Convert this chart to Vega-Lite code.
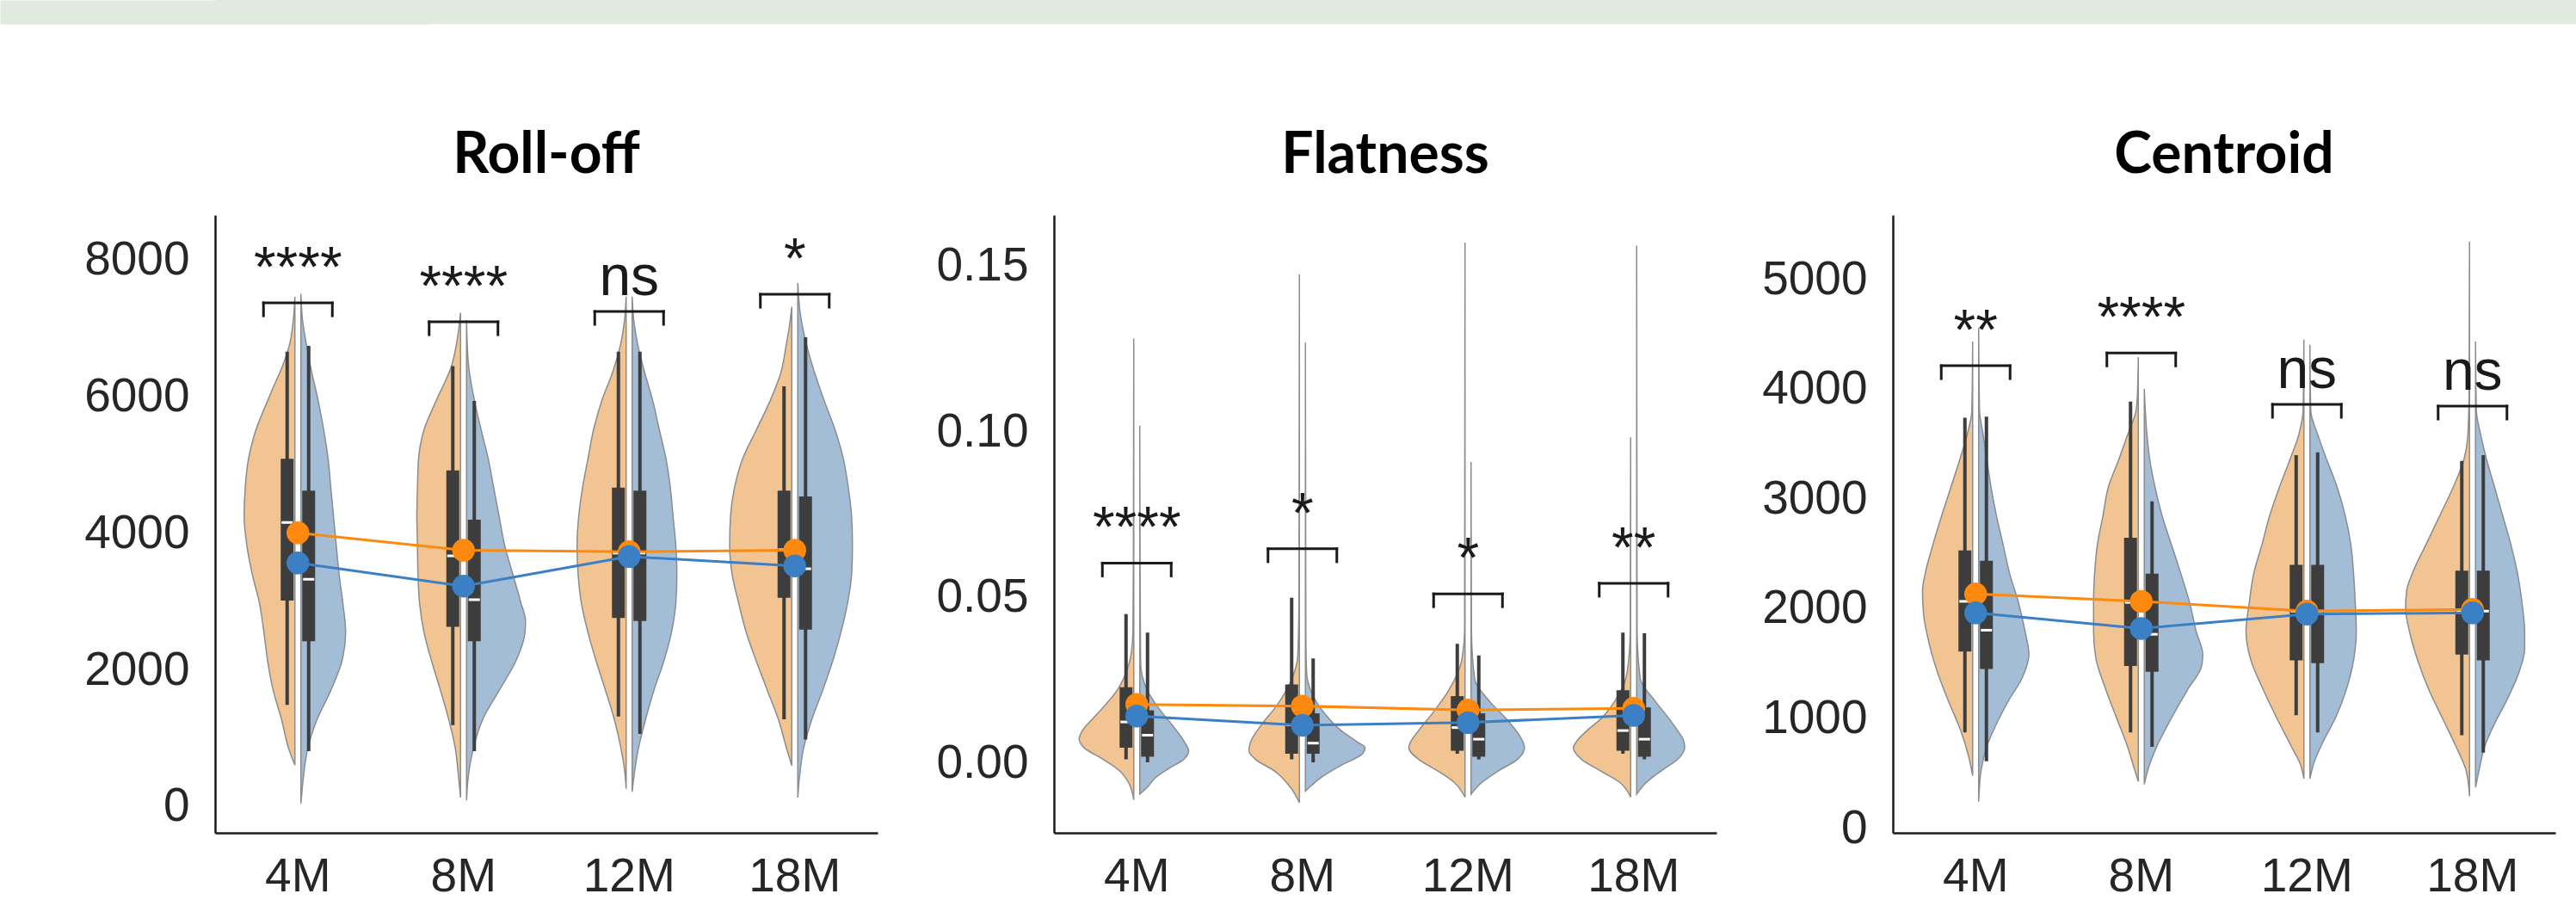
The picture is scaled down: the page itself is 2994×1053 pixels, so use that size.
{
"$schema": "https://vega.github.io/schema/vega-lite/v6.json",
"padding": 0,
"background": "white",
"config": {
  "view": {"stroke": null},
  "axis": {"grid": false, "ticks": false, "tickSize": 0, "domainColor": "#1a1a1a", "domainWidth": 2.5, "labelFont": "Liberation Sans", "labelFontSize": 55, "labelColor": "#262626"},
  "axisX": {"labelAngle": 0, "labelPadding": 24},
  "axisY": {"labelPadding": 30},
  "title": {"font": "Lato", "fontSize": 66, "fontWeight": "bold", "color": "#000000", "frame": "group", "anchor": "middle", "baseline": "alphabetic", "offset": 35}
},
"datasets": {
  "roll_violin": [
    {"age":"4M","g":"G1","v":7450,"d":0},{"age":"4M","g":"G1","v":7100,"d":0.02},{"age":"4M","g":"G1","v":6773,"d":0.06},{"age":"4M","g":"G1","v":6434,"d":0.15},{"age":"4M","g":"G1","v":6100,"d":0.27},{"age":"4M","g":"G1","v":5926,"d":0.33},{"age":"4M","g":"G1","v":5503,"d":0.47},{"age":"4M","g":"G1","v":5080,"d":0.56},{"age":"4M","g":"G1","v":4656,"d":0.6},{"age":"4M","g":"G1","v":4233,"d":0.613},{"age":"4M","g":"G1","v":3810,"d":0.58},{"age":"4M","g":"G1","v":3386,"d":0.514},{"age":"4M","g":"G1","v":2963,"d":0.427},{"age":"4M","g":"G1","v":2540,"d":0.374},{"age":"4M","g":"G1","v":2116,"d":0.328},{"age":"4M","g":"G1","v":1693,"d":0.262},{"age":"4M","g":"G1","v":1270,"d":0.162},{"age":"4M","g":"G1","v":847,"d":0.076},{"age":"4M","g":"G1","v":600,"d":0},
    {"age":"4M","g":"G2","v":7492,"d":0},{"age":"4M","g":"G2","v":7100,"d":0.02},{"age":"4M","g":"G2","v":6773,"d":0.063},{"age":"4M","g":"G2","v":6350,"d":0.129},{"age":"4M","g":"G2","v":5926,"d":0.209},{"age":"4M","g":"G2","v":5503,"d":0.275},{"age":"4M","g":"G2","v":5080,"d":0.328},{"age":"4M","g":"G2","v":4656,"d":0.361},{"age":"4M","g":"G2","v":4233,"d":0.394},{"age":"4M","g":"G2","v":3810,"d":0.427},{"age":"4M","g":"G2","v":3386,"d":0.461},{"age":"4M","g":"G2","v":2963,"d":0.507},{"age":"4M","g":"G2","v":2540,"d":0.54},{"age":"4M","g":"G2","v":2116,"d":0.494},{"age":"4M","g":"G2","v":1693,"d":0.361},{"age":"4M","g":"G2","v":1270,"d":0.196},{"age":"4M","g":"G2","v":847,"d":0.083},{"age":"4M","g":"G2","v":423,"d":0.03},{"age":"4M","g":"G2","v":40,"d":0},
    {"age":"8M","g":"G1","v":7213,"d":0},{"age":"8M","g":"G1","v":6900,"d":0.03},{"age":"8M","g":"G1","v":6434,"d":0.109},{"age":"8M","g":"G1","v":5926,"d":0.295},{"age":"8M","g":"G1","v":5503,"d":0.441},{"age":"8M","g":"G1","v":5080,"d":0.507},{"age":"8M","g":"G1","v":4656,"d":0.52},{"age":"8M","g":"G1","v":4233,"d":0.527},{"age":"8M","g":"G1","v":3810,"d":0.52},{"age":"8M","g":"G1","v":3386,"d":0.514},{"age":"8M","g":"G1","v":2963,"d":0.494},{"age":"8M","g":"G1","v":2540,"d":0.441},{"age":"8M","g":"G1","v":2116,"d":0.348},{"age":"8M","g":"G1","v":1693,"d":0.242},{"age":"8M","g":"G1","v":1270,"d":0.143},{"age":"8M","g":"G1","v":847,"d":0.063},{"age":"8M","g":"G1","v":508,"d":0.03},{"age":"8M","g":"G1","v":127,"d":0},
    {"age":"8M","g":"G2","v":7111,"d":0},{"age":"8M","g":"G2","v":6500,"d":0.02},{"age":"8M","g":"G2","v":5926,"d":0.096},{"age":"8M","g":"G2","v":5503,"d":0.176},{"age":"8M","g":"G2","v":5080,"d":0.262},{"age":"8M","g":"G2","v":4656,"d":0.328},{"age":"8M","g":"G2","v":4233,"d":0.394},{"age":"8M","g":"G2","v":3810,"d":0.461},{"age":"8M","g":"G2","v":3386,"d":0.56},{"age":"8M","g":"G2","v":2963,"d":0.659},{"age":"8M","g":"G2","v":2709,"d":0.712},{"age":"8M","g":"G2","v":2540,"d":0.706},{"age":"8M","g":"G2","v":2116,"d":0.593},{"age":"8M","g":"G2","v":1693,"d":0.394},{"age":"8M","g":"G2","v":1270,"d":0.196},{"age":"8M","g":"G2","v":847,"d":0.083},{"age":"8M","g":"G2","v":423,"d":0.02},{"age":"8M","g":"G2","v":85,"d":0},
    {"age":"12M","g":"G1","v":7450,"d":0},{"age":"12M","g":"G1","v":7100,"d":0.02},{"age":"12M","g":"G1","v":6773,"d":0.063},{"age":"12M","g":"G1","v":6350,"d":0.162},{"age":"12M","g":"G1","v":5926,"d":0.295},{"age":"12M","g":"G1","v":5503,"d":0.394},{"age":"12M","g":"G1","v":5080,"d":0.461},{"age":"12M","g":"G1","v":4656,"d":0.527},{"age":"12M","g":"G1","v":4233,"d":0.573},{"age":"12M","g":"G1","v":3810,"d":0.593},{"age":"12M","g":"G1","v":3386,"d":0.58},{"age":"12M","g":"G1","v":2963,"d":0.54},{"age":"12M","g":"G1","v":2540,"d":0.461},{"age":"12M","g":"G1","v":2116,"d":0.361},{"age":"12M","g":"G1","v":1693,"d":0.249},{"age":"12M","g":"G1","v":1270,"d":0.143},{"age":"12M","g":"G1","v":847,"d":0.063},{"age":"12M","g":"G1","v":508,"d":0.017},{"age":"12M","g":"G1","v":254,"d":0},
    {"age":"12M","g":"G2","v":7450,"d":0},{"age":"12M","g":"G2","v":7100,"d":0.02},{"age":"12M","g":"G2","v":6773,"d":0.063},{"age":"12M","g":"G2","v":6350,"d":0.149},{"age":"12M","g":"G2","v":5926,"d":0.249},{"age":"12M","g":"G2","v":5503,"d":0.328},{"age":"12M","g":"G2","v":5080,"d":0.408},{"age":"12M","g":"G2","v":4656,"d":0.461},{"age":"12M","g":"G2","v":4233,"d":0.494},{"age":"12M","g":"G2","v":3810,"d":0.527},{"age":"12M","g":"G2","v":3386,"d":0.54},{"age":"12M","g":"G2","v":2963,"d":0.527},{"age":"12M","g":"G2","v":2540,"d":0.474},{"age":"12M","g":"G2","v":2116,"d":0.381},{"age":"12M","g":"G2","v":1693,"d":0.262},{"age":"12M","g":"G2","v":1270,"d":0.162},{"age":"12M","g":"G2","v":847,"d":0.076},{"age":"12M","g":"G2","v":423,"d":0.02},{"age":"12M","g":"G2","v":212,"d":0},
    {"age":"18M","g":"G1","v":7300,"d":0},{"age":"18M","g":"G1","v":7000,"d":0.03},{"age":"18M","g":"G1","v":6773,"d":0.063},{"age":"18M","g":"G1","v":6350,"d":0.129},{"age":"18M","g":"G1","v":5926,"d":0.262},{"age":"18M","g":"G1","v":5503,"d":0.427},{"age":"18M","g":"G1","v":5080,"d":0.593},{"age":"18M","g":"G1","v":4656,"d":0.692},{"age":"18M","g":"G1","v":4233,"d":0.74},{"age":"18M","g":"G1","v":3810,"d":0.75},{"age":"18M","g":"G1","v":3386,"d":0.72},{"age":"18M","g":"G1","v":2963,"d":0.64},{"age":"18M","g":"G1","v":2540,"d":0.55},{"age":"18M","g":"G1","v":2116,"d":0.427},{"age":"18M","g":"G1","v":1693,"d":0.295},{"age":"18M","g":"G1","v":1270,"d":0.162},{"age":"18M","g":"G1","v":847,"d":0.063},{"age":"18M","g":"G1","v":593,"d":0},
    {"age":"18M","g":"G2","v":7650,"d":0},{"age":"18M","g":"G2","v":7200,"d":0.03},{"age":"18M","g":"G2","v":6773,"d":0.1},{"age":"18M","g":"G2","v":6350,"d":0.2},{"age":"18M","g":"G2","v":5926,"d":0.32},{"age":"18M","g":"G2","v":5503,"d":0.45},{"age":"18M","g":"G2","v":5080,"d":0.55},{"age":"18M","g":"G2","v":4656,"d":0.61},{"age":"18M","g":"G2","v":4233,"d":0.65},{"age":"18M","g":"G2","v":3810,"d":0.66},{"age":"18M","g":"G2","v":3386,"d":0.65},{"age":"18M","g":"G2","v":2963,"d":0.6},{"age":"18M","g":"G2","v":2540,"d":0.52},{"age":"18M","g":"G2","v":2116,"d":0.42},{"age":"18M","g":"G2","v":1693,"d":0.3},{"age":"18M","g":"G2","v":1270,"d":0.17},{"age":"18M","g":"G2","v":847,"d":0.07},{"age":"18M","g":"G2","v":423,"d":0.02},{"age":"18M","g":"G2","v":127,"d":0}
  ],
  "roll_box": [
    {"age":"4M","g":"G1","lo":1481,"q1":3005,"med":4148,"q3":5080,"hi":6646},
    {"age":"4M","g":"G2","lo":804,"q1":2413,"med":3318,"q3":4614,"hi":6730},
    {"age":"8M","g":"G1","lo":1185,"q1":2624,"med":3660,"q3":4910,"hi":6434},
    {"age":"8M","g":"G2","lo":804,"q1":2413,"med":3019,"q3":4190,"hi":5926},
    {"age":"12M","g":"G1","lo":1312,"q1":2751,"med":3700,"q3":4656,"hi":6646},
    {"age":"12M","g":"G2","lo":1058,"q1":2709,"med":3700,"q3":4614,"hi":6646},
    {"age":"18M","g":"G1","lo":1270,"q1":3048,"med":3750,"q3":4614,"hi":6138},
    {"age":"18M","g":"G2","lo":974,"q1":2582,"med":3471,"q3":4529,"hi":6857}
  ],
  "roll_mean": [
    {"age":"4M","g":"G1","mean":3996},{"age":"8M","g":"G1","mean":3742},{"age":"12M","g":"G1","mean":3720},{"age":"18M","g":"G1","mean":3742},
    {"age":"4M","g":"G2","mean":3556},{"age":"8M","g":"G2","mean":3217},{"age":"12M","g":"G2","mean":3650},{"age":"18M","g":"G2","mean":3513}
  ],
  "roll_sig": [
    {"age":"4M","level":7358,"label":"****"},{"age":"8M","level":7082,"label":"****"},{"age":"12M","level":7233,"label":"ns"},{"age":"18M","level":7484,"label":"*"}
  ],
  "flat_violin": [
    {"age":"4M","g":"G1","v":0.128,"d":0},{"age":"4M","g":"G1","v":0.06,"d":0.005},{"age":"4M","g":"G1","v":0.04,"d":0.01},{"age":"4M","g":"G1","v":0.033,"d":0.03},{"age":"4M","g":"G1","v":0.028,"d":0.08},{"age":"4M","g":"G1","v":0.0218,"d":0.2},{"age":"4M","g":"G1","v":0.0166,"d":0.37},{"age":"4M","g":"G1","v":0.0131,"d":0.5},{"age":"4M","g":"G1","v":0.0096,"d":0.62},{"age":"4M","g":"G1","v":0.007,"d":0.66},{"age":"4M","g":"G1","v":0.0044,"d":0.6},{"age":"4M","g":"G1","v":0.0009,"d":0.37},{"age":"4M","g":"G1","v":-0.0026,"d":0.17},{"age":"4M","g":"G1","v":-0.0061,"d":0.063},{"age":"4M","g":"G1","v":-0.0113,"d":0},
    {"age":"4M","g":"G2","v":0.1017,"d":0},{"age":"4M","g":"G2","v":0.05,"d":0.005},{"age":"4M","g":"G2","v":0.03,"d":0.01},{"age":"4M","g":"G2","v":0.026,"d":0.03},{"age":"4M","g":"G2","v":0.0218,"d":0.09},{"age":"4M","g":"G2","v":0.0166,"d":0.22},{"age":"4M","g":"G2","v":0.0113,"d":0.39},{"age":"4M","g":"G2","v":0.0061,"d":0.54},{"age":"4M","g":"G2","v":0.0035,"d":0.59},{"age":"4M","g":"G2","v":0.0009,"d":0.53},{"age":"4M","g":"G2","v":-0.0017,"d":0.36},{"age":"4M","g":"G2","v":-0.0044,"d":0.2},{"age":"4M","g":"G2","v":-0.0078,"d":0.08},{"age":"4M","g":"G2","v":-0.0096,"d":0},
    {"age":"8M","g":"G1","v":0.1474,"d":0},{"age":"8M","g":"G1","v":0.05,"d":0.005},{"age":"8M","g":"G1","v":0.032,"d":0.02},{"age":"8M","g":"G1","v":0.0253,"d":0.09},{"age":"8M","g":"G1","v":0.0166,"d":0.29},{"age":"8M","g":"G1","v":0.0113,"d":0.46},{"age":"8M","g":"G1","v":0.0061,"d":0.59},{"age":"8M","g":"G1","v":0.0035,"d":0.61},{"age":"8M","g":"G1","v":0.0009,"d":0.53},{"age":"8M","g":"G1","v":-0.0026,"d":0.3},{"age":"8M","g":"G1","v":-0.0078,"d":0.1},{"age":"8M","g":"G1","v":-0.0122,"d":0},
    {"age":"8M","g":"G2","v":0.1268,"d":0},{"age":"8M","g":"G2","v":0.04,"d":0.005},{"age":"8M","g":"G2","v":0.027,"d":0.015},{"age":"8M","g":"G2","v":0.0218,"d":0.063},{"age":"8M","g":"G2","v":0.0148,"d":0.23},{"age":"8M","g":"G2","v":0.0096,"d":0.43},{"age":"8M","g":"G2","v":0.0061,"d":0.63},{"age":"8M","g":"G2","v":0.0044,"d":0.72},{"age":"8M","g":"G2","v":0.0026,"d":0.69},{"age":"8M","g":"G2","v":-0.0009,"d":0.43},{"age":"8M","g":"G2","v":-0.0044,"d":0.2},{"age":"8M","g":"G2","v":-0.0072,"d":0.063},{"age":"8M","g":"G2","v":-0.0087,"d":0},
    {"age":"12M","g":"G1","v":0.157,"d":0},{"age":"12M","g":"G1","v":0.04,"d":0.005},{"age":"12M","g":"G1","v":0.0305,"d":0.043},{"age":"12M","g":"G1","v":0.0218,"d":0.196},{"age":"12M","g":"G1","v":0.0148,"d":0.394},{"age":"12M","g":"G1","v":0.0096,"d":0.56},{"age":"12M","g":"G1","v":0.0061,"d":0.659},{"age":"12M","g":"G1","v":0.0044,"d":0.679},{"age":"12M","g":"G1","v":0.0009,"d":0.56},{"age":"12M","g":"G1","v":-0.0026,"d":0.328},{"age":"12M","g":"G1","v":-0.0061,"d":0.129},{"age":"12M","g":"G1","v":-0.0105,"d":0},
    {"age":"12M","g":"G2","v":0.0907,"d":0},{"age":"12M","g":"G2","v":0.04,"d":0.005},{"age":"12M","g":"G2","v":0.0253,"d":0.043},{"age":"12M","g":"G2","v":0.0183,"d":0.229},{"age":"12M","g":"G2","v":0.0131,"d":0.427},{"age":"12M","g":"G2","v":0.0078,"d":0.593},{"age":"12M","g":"G2","v":0.0044,"d":0.646},{"age":"12M","g":"G2","v":0.0009,"d":0.56},{"age":"12M","g":"G2","v":-0.0026,"d":0.328},{"age":"12M","g":"G2","v":-0.0061,"d":0.129},{"age":"12M","g":"G2","v":-0.0096,"d":0},
    {"age":"18M","g":"G1","v":0.0982,"d":0},{"age":"18M","g":"G1","v":0.04,"d":0.005},{"age":"18M","g":"G1","v":0.027,"d":0.043},{"age":"18M","g":"G1","v":0.0183,"d":0.196},{"age":"18M","g":"G1","v":0.0131,"d":0.361},{"age":"18M","g":"G1","v":0.0096,"d":0.527},{"age":"18M","g":"G1","v":0.0061,"d":0.659},{"age":"18M","g":"G1","v":0.0044,"d":0.692},{"age":"18M","g":"G1","v":0.0009,"d":0.593},{"age":"18M","g":"G1","v":-0.0026,"d":0.361},{"age":"18M","g":"G1","v":-0.0061,"d":0.129},{"age":"18M","g":"G1","v":-0.0105,"d":0},
    {"age":"18M","g":"G2","v":0.1561,"d":0},{"age":"18M","g":"G2","v":0.04,"d":0.005},{"age":"18M","g":"G2","v":0.0253,"d":0.043},{"age":"18M","g":"G2","v":0.0183,"d":0.229},{"age":"18M","g":"G2","v":0.0131,"d":0.394},{"age":"18M","g":"G2","v":0.0096,"d":0.494},{"age":"18M","g":"G2","v":0.007,"d":0.56},{"age":"18M","g":"G2","v":0.0044,"d":0.58},{"age":"18M","g":"G2","v":0.0009,"d":0.494},{"age":"18M","g":"G2","v":-0.0026,"d":0.295},{"age":"18M","g":"G2","v":-0.0061,"d":0.116},{"age":"18M","g":"G2","v":-0.0096,"d":0}
  ],
  "flat_box": [
    {"age":"4M","g":"G1","lo":0.0009,"q1":0.0044,"med":0.0122,"q3":0.0227,"hi":0.0448},
    {"age":"4M","g":"G2","lo":0.0,"q1":0.0017,"med":0.0082,"q3":0.0157,"hi":0.0392},
    {"age":"8M","g":"G1","lo":0.0009,"q1":0.0026,"med":0.0113,"q3":0.0235,"hi":0.0497},
    {"age":"8M","g":"G2","lo":0.0,"q1":0.0026,"med":0.0058,"q3":0.0148,"hi":0.0314},
    {"age":"12M","g":"G1","lo":0.0026,"q1":0.0035,"med":0.0105,"q3":0.02,"hi":0.0358},
    {"age":"12M","g":"G2","lo":0.0009,"q1":0.0017,"med":0.007,"q3":0.0148,"hi":0.0323},
    {"age":"18M","g":"G1","lo":0.0026,"q1":0.0035,"med":0.0096,"q3":0.0218,"hi":0.0392},
    {"age":"18M","g":"G2","lo":0.0009,"q1":0.0017,"med":0.007,"q3":0.0166,"hi":0.039}
  ],
  "flat_mean": [
    {"age":"4M","g":"G1","mean":0.0175},{"age":"8M","g":"G1","mean":0.017},{"age":"12M","g":"G1","mean":0.0158},{"age":"18M","g":"G1","mean":0.0163},
    {"age":"4M","g":"G2","mean":0.014},{"age":"8M","g":"G2","mean":0.0112},{"age":"12M","g":"G2","mean":0.012},{"age":"18M","g":"G2","mean":0.0142}
  ],
  "flat_sig": [
    {"age":"4M","level":0.0602,"label":"****"},{"age":"8M","level":0.0645,"label":"*"},{"age":"12M","level":0.0509,"label":"*"},{"age":"18M","level":0.0541,"label":"**"}
  ],
  "cent_violin": [
    {"age":"4M","g":"G1","v":4431,"d":0},{"age":"4M","g":"G1","v":3800,"d":0.01},{"age":"4M","g":"G1","v":3600,"d":0.06},{"age":"4M","g":"G1","v":3368,"d":0.15},{"age":"4M","g":"G1","v":3105,"d":0.262},{"age":"4M","g":"G1","v":2842,"d":0.375},{"age":"4M","g":"G1","v":2579,"d":0.48},{"age":"4M","g":"G1","v":2316,"d":0.573},{"age":"4M","g":"G1","v":2158,"d":0.606},{"age":"4M","g":"G1","v":1947,"d":0.593},{"age":"4M","g":"G1","v":1684,"d":0.527},{"age":"4M","g":"G1","v":1421,"d":0.427},{"age":"4M","g":"G1","v":1158,"d":0.295},{"age":"4M","g":"G1","v":895,"d":0.149},{"age":"4M","g":"G1","v":632,"d":0.043},{"age":"4M","g":"G1","v":474,"d":0},
    {"age":"4M","g":"G2","v":4553,"d":0},{"age":"4M","g":"G2","v":3800,"d":0.01},{"age":"4M","g":"G2","v":3600,"d":0.05},{"age":"4M","g":"G2","v":3368,"d":0.096},{"age":"4M","g":"G2","v":3105,"d":0.149},{"age":"4M","g":"G2","v":2842,"d":0.215},{"age":"4M","g":"G2","v":2579,"d":0.295},{"age":"4M","g":"G2","v":2316,"d":0.374},{"age":"4M","g":"G2","v":2053,"d":0.48},{"age":"4M","g":"G2","v":1790,"d":0.56},{"age":"4M","g":"G2","v":1579,"d":0.606},{"age":"4M","g":"G2","v":1368,"d":0.527},{"age":"4M","g":"G2","v":1158,"d":0.361},{"age":"4M","g":"G2","v":947,"d":0.215},{"age":"4M","g":"G2","v":737,"d":0.096},{"age":"4M","g":"G2","v":526,"d":0.03},{"age":"4M","g":"G2","v":237,"d":0},
    {"age":"8M","g":"G1","v":4289,"d":0},{"age":"8M","g":"G1","v":3950,"d":0.01},{"age":"8M","g":"G1","v":3789,"d":0.03},{"age":"8M","g":"G1","v":3600,"d":0.12},{"age":"8M","g":"G1","v":3368,"d":0.229},{"age":"8M","g":"G1","v":3105,"d":0.361},{"age":"8M","g":"G1","v":2842,"d":0.427},{"age":"8M","g":"G1","v":2579,"d":0.494},{"age":"8M","g":"G1","v":2316,"d":0.527},{"age":"8M","g":"G1","v":2053,"d":0.54},{"age":"8M","g":"G1","v":1790,"d":0.54},{"age":"8M","g":"G1","v":1526,"d":0.507},{"age":"8M","g":"G1","v":1263,"d":0.394},{"age":"8M","g":"G1","v":1000,"d":0.262},{"age":"8M","g":"G1","v":737,"d":0.129},{"age":"8M","g":"G1","v":526,"d":0.043},{"age":"8M","g":"G1","v":421,"d":0},
    {"age":"8M","g":"G2","v":4000,"d":0},{"age":"8M","g":"G2","v":3600,"d":0.03},{"age":"8M","g":"G2","v":3368,"d":0.063},{"age":"8M","g":"G2","v":3105,"d":0.129},{"age":"8M","g":"G2","v":2842,"d":0.215},{"age":"8M","g":"G2","v":2579,"d":0.328},{"age":"8M","g":"G2","v":2316,"d":0.441},{"age":"8M","g":"G2","v":2053,"d":0.547},{"age":"8M","g":"G2","v":1790,"d":0.626},{"age":"8M","g":"G2","v":1579,"d":0.706},{"age":"8M","g":"G2","v":1474,"d":0.692},{"age":"8M","g":"G2","v":1263,"d":0.527},{"age":"8M","g":"G2","v":1000,"d":0.328},{"age":"8M","g":"G2","v":737,"d":0.149},{"age":"8M","g":"G2","v":526,"d":0.043},{"age":"8M","g":"G2","v":395,"d":0},
    {"age":"12M","g":"G1","v":4447,"d":0},{"age":"12M","g":"G1","v":3800,"d":0.01},{"age":"12M","g":"G1","v":3579,"d":0.063},{"age":"12M","g":"G1","v":3368,"d":0.162},{"age":"12M","g":"G1","v":3105,"d":0.295},{"age":"12M","g":"G1","v":2842,"d":0.414},{"age":"12M","g":"G1","v":2579,"d":0.507},{"age":"12M","g":"G1","v":2316,"d":0.606},{"age":"12M","g":"G1","v":2053,"d":0.659},{"age":"12M","g":"G1","v":1790,"d":0.699},{"age":"12M","g":"G1","v":1526,"d":0.64},{"age":"12M","g":"G1","v":1263,"d":0.494},{"age":"12M","g":"G1","v":1000,"d":0.328},{"age":"12M","g":"G1","v":737,"d":0.149},{"age":"12M","g":"G1","v":579,"d":0.043},{"age":"12M","g":"G1","v":447,"d":0},
    {"age":"12M","g":"G2","v":4400,"d":0},{"age":"12M","g":"G2","v":3800,"d":0.01},{"age":"12M","g":"G2","v":3579,"d":0.096},{"age":"12M","g":"G2","v":3368,"d":0.196},{"age":"12M","g":"G2","v":3105,"d":0.328},{"age":"12M","g":"G2","v":2842,"d":0.427},{"age":"12M","g":"G2","v":2579,"d":0.494},{"age":"12M","g":"G2","v":2316,"d":0.527},{"age":"12M","g":"G2","v":2053,"d":0.547},{"age":"12M","g":"G2","v":1790,"d":0.56},{"age":"12M","g":"G2","v":1526,"d":0.527},{"age":"12M","g":"G2","v":1263,"d":0.441},{"age":"12M","g":"G2","v":1000,"d":0.308},{"age":"12M","g":"G2","v":789,"d":0.162},{"age":"12M","g":"G2","v":579,"d":0.043},{"age":"12M","g":"G2","v":447,"d":0},
    {"age":"18M","g":"G1","v":5342,"d":0},{"age":"18M","g":"G1","v":4000,"d":0.005},{"age":"18M","g":"G1","v":3579,"d":0.02},{"age":"18M","g":"G1","v":3368,"d":0.063},{"age":"18M","g":"G1","v":3105,"d":0.196},{"age":"18M","g":"G1","v":2842,"d":0.361},{"age":"18M","g":"G1","v":2579,"d":0.527},{"age":"18M","g":"G1","v":2316,"d":0.692},{"age":"18M","g":"G1","v":2158,"d":0.759},{"age":"18M","g":"G1","v":2000,"d":0.772},{"age":"18M","g":"G1","v":1790,"d":0.726},{"age":"18M","g":"G1","v":1526,"d":0.626},{"age":"18M","g":"G1","v":1263,"d":0.494},{"age":"18M","g":"G1","v":1000,"d":0.328},{"age":"18M","g":"G1","v":737,"d":0.162},{"age":"18M","g":"G1","v":526,"d":0.043},{"age":"18M","g":"G1","v":289,"d":0},
    {"age":"18M","g":"G2","v":4431,"d":0},{"age":"18M","g":"G2","v":3800,"d":0.01},{"age":"18M","g":"G2","v":3579,"d":0.063},{"age":"18M","g":"G2","v":3368,"d":0.129},{"age":"18M","g":"G2","v":3105,"d":0.229},{"age":"18M","g":"G2","v":2842,"d":0.328},{"age":"18M","g":"G2","v":2579,"d":0.427},{"age":"18M","g":"G2","v":2316,"d":0.507},{"age":"18M","g":"G2","v":2053,"d":0.56},{"age":"18M","g":"G2","v":1790,"d":0.593},{"age":"18M","g":"G2","v":1632,"d":0.593},{"age":"18M","g":"G2","v":1421,"d":0.527},{"age":"18M","g":"G2","v":1158,"d":0.374},{"age":"18M","g":"G2","v":947,"d":0.229},{"age":"18M","g":"G2","v":737,"d":0.109},{"age":"18M","g":"G2","v":526,"d":0.043},{"age":"18M","g":"G2","v":368,"d":0}
  ],
  "cent_box": [
    {"age":"4M","g":"G1","lo":868,"q1":1605,"med":2063,"q3":2526,"hi":3737},
    {"age":"4M","g":"G2","lo":605,"q1":1447,"med":1800,"q3":2432,"hi":3747},
    {"age":"8M","g":"G1","lo":868,"q1":1474,"med":2053,"q3":2642,"hi":3884},
    {"age":"8M","g":"G2","lo":737,"q1":1421,"med":1763,"q3":2316,"hi":2974},
    {"age":"12M","g":"G1","lo":1026,"q1":1526,"med":1974,"q3":2395,"hi":3395},
    {"age":"12M","g":"G2","lo":868,"q1":1500,"med":1974,"q3":2395,"hi":3421},
    {"age":"18M","g":"G1","lo":842,"q1":1579,"med":1974,"q3":2342,"hi":3342},
    {"age":"18M","g":"G2","lo":684,"q1":1526,"med":1974,"q3":2342,"hi":3395}
  ],
  "cent_mean": [
    {"age":"4M","g":"G1","mean":2131},{"age":"8M","g":"G1","mean":2063},{"age":"12M","g":"G1","mean":1974},{"age":"18M","g":"G1","mean":1989},
    {"age":"4M","g":"G2","mean":1958},{"age":"8M","g":"G2","mean":1816},{"age":"12M","g":"G2","mean":1947},{"age":"18M","g":"G2","mean":1958}
  ],
  "cent_sig": [
    {"age":"4M","level":4210,"label":"**"},{"age":"8M","level":4326,"label":"****"},{"age":"12M","level":3858,"label":"ns"},{"age":"18M","level":3842,"label":"ns"}
  ]
},
"columns": 1,
"align": "none",
"spacing": 120,
"concat": [
  {"width": 2744, "height": 28, "data": {"values": []}, "mark": {"type": "point", "opacity": 0},
   "encoding": {"y": {"datum": 0, "type": "quantitative", "axis": {"domainWidth": 500, "domainColor": "#e1eadf", "labels": false, "ticks": false, "grid": false, "title": null, "minExtent": 250, "maxExtent": 250}}},
   "view": {"fill": "#e1eadf", "stroke": null}},
  {"spacing": 50, "hconcat": [
    {"width": 770, "height": 718, "title": {"text": "Roll-off"},
     "resolve": {"scale": {"xOffset": "independent"}},
     "encoding": {"x": {"field": "age", "type": "nominal", "title": null, "scale": {"domain": ["4M","8M","12M","18M"], "paddingInner": 0, "paddingOuter": 0}}},
     "layer": [
      {"data": {"name": "roll_violin"}, "transform": [{"filter": "datum.g === 'G1'"}],
       "mark": {"type": "area", "orient": "horizontal", "interpolate": "monotone", "fill": "#f1c491", "stroke": "#8c8c8c", "strokeWidth": 1.5, "x2Offset": -3.5},
       "encoding": {"x2": {"field": "age"}, "xOffset": {"field": "d", "type": "quantitative", "scale": {"domain": [0, 1], "range": [92.75, -3.5]}},
         "y": {"field": "v", "type": "quantitative", "stack": null, "title": null, "scale": {"domain": [-390, 8642], "nice": false, "zero": false}, "axis": {"values": [0, 2000, 4000, 6000, 8000], "format": "d", "minExtent": 250, "maxExtent": 250}},
         "detail": {"field": "age"}}},
      {"data": {"name": "roll_violin"}, "transform": [{"filter": "datum.g === 'G2'"}],
       "mark": {"type": "area", "orient": "horizontal", "interpolate": "monotone", "fill": "#a4bdd7", "stroke": "#8c8c8c", "strokeWidth": 1.5, "x2Offset": 3.5},
       "encoding": {"x2": {"field": "age"}, "xOffset": {"field": "d", "type": "quantitative", "scale": {"domain": [0, 1], "range": [99.75, 196]}},
         "y": {"field": "v", "type": "quantitative", "stack": null, "title": null, "scale": {"domain": [-390, 8642], "nice": false, "zero": false}},
         "detail": {"field": "age"}}},
      {"data": {"name": "roll_box"}, "transform": [{"filter": "datum.g === 'G1'"}],
       "mark": {"type": "rule", "color": "#3d3d3d", "strokeWidth": 4, "xOffset": -12.5},
       "encoding": {"y": {"field": "lo", "type": "quantitative", "title": null, "scale": {"domain": [-390, 8642], "nice": false, "zero": false}}, "y2": {"field": "hi"}}},
      {"data": {"name": "roll_box"}, "transform": [{"filter": "datum.g === 'G2'"}],
       "mark": {"type": "rule", "color": "#3d3d3d", "strokeWidth": 4, "xOffset": 12.5},
       "encoding": {"y": {"field": "lo", "type": "quantitative", "title": null, "scale": {"domain": [-390, 8642], "nice": false, "zero": false}}, "y2": {"field": "hi"}}},
      {"data": {"name": "roll_box"}, "transform": [{"filter": "datum.g === 'G1'"}],
       "mark": {"type": "rule", "color": "#3d3d3d", "strokeWidth": 15, "xOffset": -12.5},
       "encoding": {"y": {"field": "q1", "type": "quantitative", "title": null, "scale": {"domain": [-390, 8642], "nice": false, "zero": false}}, "y2": {"field": "q3"}}},
      {"data": {"name": "roll_box"}, "transform": [{"filter": "datum.g === 'G2'"}],
       "mark": {"type": "rule", "color": "#3d3d3d", "strokeWidth": 15, "xOffset": 12.5},
       "encoding": {"y": {"field": "q1", "type": "quantitative", "title": null, "scale": {"domain": [-390, 8642], "nice": false, "zero": false}}, "y2": {"field": "q3"}}},
      {"data": {"name": "roll_box"}, "transform": [{"filter": "datum.g === 'G1'"}],
       "mark": {"type": "rule", "color": "white", "strokeWidth": 3, "xOffset": -19, "x2Offset": -6},
       "encoding": {"x2": {"field": "age"}, "y": {"field": "med", "type": "quantitative", "title": null, "scale": {"domain": [-390, 8642], "nice": false, "zero": false}}}},
      {"data": {"name": "roll_box"}, "transform": [{"filter": "datum.g === 'G2'"}],
       "mark": {"type": "rule", "color": "white", "strokeWidth": 3, "xOffset": 6, "x2Offset": 19},
       "encoding": {"x2": {"field": "age"}, "y": {"field": "med", "type": "quantitative", "title": null, "scale": {"domain": [-390, 8642], "nice": false, "zero": false}}}},
      {"data": {"name": "roll_mean"},
       "mark": {"type": "line", "strokeWidth": 3},
       "encoding": {"y": {"field": "mean", "type": "quantitative", "title": null, "scale": {"domain": [-390, 8642], "nice": false, "zero": false}},
         "color": {"field": "g", "type": "nominal", "scale": {"domain": ["G1","G2"], "range": ["#fd8a0e", "#3b7fc4"]}, "legend": null}}},
      {"data": {"name": "roll_mean"},
       "mark": {"type": "circle", "size": 700, "opacity": 1},
       "encoding": {"y": {"field": "mean", "type": "quantitative", "title": null, "scale": {"domain": [-390, 8642], "nice": false, "zero": false}},
         "color": {"field": "g", "type": "nominal", "scale": {"domain": ["G1","G2"], "range": ["#fd8a0e", "#3b7fc4"]}, "legend": null}}},
      {"data": {"name": "roll_sig"},
       "mark": {"type": "rule", "color": "#1a1a1a", "strokeWidth": 3, "strokeCap": "square", "xOffset": -40, "x2Offset": 40},
       "encoding": {"x2": {"field": "age"}, "y": {"field": "level", "type": "quantitative", "title": null, "scale": {"domain": [-390, 8642], "nice": false, "zero": false}}}},
      {"data": {"name": "roll_sig"},
       "mark": {"type": "rule", "color": "#1a1a1a", "strokeWidth": 3, "strokeCap": "square", "xOffset": -40, "y2Offset": 15},
       "encoding": {"y": {"field": "level", "type": "quantitative", "title": null, "scale": {"domain": [-390, 8642], "nice": false, "zero": false}}, "y2": {"field": "level"}}},
      {"data": {"name": "roll_sig"},
       "mark": {"type": "rule", "color": "#1a1a1a", "strokeWidth": 3, "strokeCap": "square", "xOffset": 40, "y2Offset": 15},
       "encoding": {"y": {"field": "level", "type": "quantitative", "title": null, "scale": {"domain": [-390, 8642], "nice": false, "zero": false}}, "y2": {"field": "level"}}},
      {"data": {"name": "roll_sig"},
       "mark": {"type": "text", "font": "Liberation Sans", "fontSize": 66, "color": "#1a1a1a", "baseline": "alphabetic", "dy": -19},
       "encoding": {"text": {"field": "label"}, "y": {"field": "level", "type": "quantitative", "title": null, "scale": {"domain": [-390, 8642], "nice": false, "zero": false}}}}
     ]},
    {"width": 770, "height": 718, "title": {"text": "Flatness"},
     "resolve": {"scale": {"xOffset": "independent"}},
     "encoding": {"x": {"field": "age", "type": "nominal", "title": null, "scale": {"domain": ["4M","8M","12M","18M"], "paddingInner": 0, "paddingOuter": 0}}},
     "layer": [
      {"data": {"name": "flat_violin"}, "transform": [{"filter": "datum.g === 'G1'"}],
       "mark": {"type": "area", "orient": "horizontal", "interpolate": "monotone", "fill": "#f1c491", "stroke": "#8c8c8c", "strokeWidth": 1.5, "x2Offset": -3.5},
       "encoding": {"x2": {"field": "age"}, "xOffset": {"field": "d", "type": "quantitative", "scale": {"domain": [0, 1], "range": [92.75, -3.5]}},
         "y": {"field": "v", "type": "quantitative", "stack": null, "title": null, "scale": {"domain": [-0.0213, 0.1653], "nice": false, "zero": false}, "axis": {"values": [0, 0.05, 0.1, 0.15], "format": ".2f", "minExtent": 155, "maxExtent": 155}},
         "detail": {"field": "age"}}},
      {"data": {"name": "flat_violin"}, "transform": [{"filter": "datum.g === 'G2'"}],
       "mark": {"type": "area", "orient": "horizontal", "interpolate": "monotone", "fill": "#a4bdd7", "stroke": "#8c8c8c", "strokeWidth": 1.5, "x2Offset": 3.5},
       "encoding": {"x2": {"field": "age"}, "xOffset": {"field": "d", "type": "quantitative", "scale": {"domain": [0, 1], "range": [99.75, 196]}},
         "y": {"field": "v", "type": "quantitative", "stack": null, "title": null, "scale": {"domain": [-0.0213, 0.1653], "nice": false, "zero": false}},
         "detail": {"field": "age"}}},
      {"data": {"name": "flat_box"}, "transform": [{"filter": "datum.g === 'G1'"}],
       "mark": {"type": "rule", "color": "#3d3d3d", "strokeWidth": 4, "xOffset": -12.5},
       "encoding": {"y": {"field": "lo", "type": "quantitative", "title": null, "scale": {"domain": [-0.0213, 0.1653], "nice": false, "zero": false}}, "y2": {"field": "hi"}}},
      {"data": {"name": "flat_box"}, "transform": [{"filter": "datum.g === 'G2'"}],
       "mark": {"type": "rule", "color": "#3d3d3d", "strokeWidth": 4, "xOffset": 12.5},
       "encoding": {"y": {"field": "lo", "type": "quantitative", "title": null, "scale": {"domain": [-0.0213, 0.1653], "nice": false, "zero": false}}, "y2": {"field": "hi"}}},
      {"data": {"name": "flat_box"}, "transform": [{"filter": "datum.g === 'G1'"}],
       "mark": {"type": "rule", "color": "#3d3d3d", "strokeWidth": 15, "xOffset": -12.5},
       "encoding": {"y": {"field": "q1", "type": "quantitative", "title": null, "scale": {"domain": [-0.0213, 0.1653], "nice": false, "zero": false}}, "y2": {"field": "q3"}}},
      {"data": {"name": "flat_box"}, "transform": [{"filter": "datum.g === 'G2'"}],
       "mark": {"type": "rule", "color": "#3d3d3d", "strokeWidth": 15, "xOffset": 12.5},
       "encoding": {"y": {"field": "q1", "type": "quantitative", "title": null, "scale": {"domain": [-0.0213, 0.1653], "nice": false, "zero": false}}, "y2": {"field": "q3"}}},
      {"data": {"name": "flat_box"}, "transform": [{"filter": "datum.g === 'G1'"}],
       "mark": {"type": "rule", "color": "white", "strokeWidth": 3, "xOffset": -19, "x2Offset": -6},
       "encoding": {"x2": {"field": "age"}, "y": {"field": "med", "type": "quantitative", "title": null, "scale": {"domain": [-0.0213, 0.1653], "nice": false, "zero": false}}}},
      {"data": {"name": "flat_box"}, "transform": [{"filter": "datum.g === 'G2'"}],
       "mark": {"type": "rule", "color": "white", "strokeWidth": 3, "xOffset": 6, "x2Offset": 19},
       "encoding": {"x2": {"field": "age"}, "y": {"field": "med", "type": "quantitative", "title": null, "scale": {"domain": [-0.0213, 0.1653], "nice": false, "zero": false}}}},
      {"data": {"name": "flat_mean"},
       "mark": {"type": "line", "strokeWidth": 3},
       "encoding": {"y": {"field": "mean", "type": "quantitative", "title": null, "scale": {"domain": [-0.0213, 0.1653], "nice": false, "zero": false}},
         "color": {"field": "g", "type": "nominal", "scale": {"domain": ["G1","G2"], "range": ["#fd8a0e", "#3b7fc4"]}, "legend": null}}},
      {"data": {"name": "flat_mean"},
       "mark": {"type": "circle", "size": 700, "opacity": 1},
       "encoding": {"y": {"field": "mean", "type": "quantitative", "title": null, "scale": {"domain": [-0.0213, 0.1653], "nice": false, "zero": false}},
         "color": {"field": "g", "type": "nominal", "scale": {"domain": ["G1","G2"], "range": ["#fd8a0e", "#3b7fc4"]}, "legend": null}}},
      {"data": {"name": "flat_sig"},
       "mark": {"type": "rule", "color": "#1a1a1a", "strokeWidth": 3, "strokeCap": "square", "xOffset": -40, "x2Offset": 40},
       "encoding": {"x2": {"field": "age"}, "y": {"field": "level", "type": "quantitative", "title": null, "scale": {"domain": [-0.0213, 0.1653], "nice": false, "zero": false}}}},
      {"data": {"name": "flat_sig"},
       "mark": {"type": "rule", "color": "#1a1a1a", "strokeWidth": 3, "strokeCap": "square", "xOffset": -40, "y2Offset": 15},
       "encoding": {"y": {"field": "level", "type": "quantitative", "title": null, "scale": {"domain": [-0.0213, 0.1653], "nice": false, "zero": false}}, "y2": {"field": "level"}}},
      {"data": {"name": "flat_sig"},
       "mark": {"type": "rule", "color": "#1a1a1a", "strokeWidth": 3, "strokeCap": "square", "xOffset": 40, "y2Offset": 15},
       "encoding": {"y": {"field": "level", "type": "quantitative", "title": null, "scale": {"domain": [-0.0213, 0.1653], "nice": false, "zero": false}}, "y2": {"field": "level"}}},
      {"data": {"name": "flat_sig"},
       "mark": {"type": "text", "font": "Liberation Sans", "fontSize": 66, "color": "#1a1a1a", "baseline": "alphabetic", "dy": -19},
       "encoding": {"text": {"field": "label"}, "y": {"field": "level", "type": "quantitative", "title": null, "scale": {"domain": [-0.0213, 0.1653], "nice": false, "zero": false}}}}
     ]},
    {"width": 770, "height": 718, "title": {"text": "Centroid"},
     "resolve": {"scale": {"xOffset": "independent"}},
     "encoding": {"x": {"field": "age", "type": "nominal", "title": null, "scale": {"domain": ["4M","8M","12M","18M"], "paddingInner": 0, "paddingOuter": 0}}},
     "layer": [
      {"data": {"name": "cent_violin"}, "transform": [{"filter": "datum.g === 'G1'"}],
       "mark": {"type": "area", "orient": "horizontal", "interpolate": "monotone", "fill": "#f1c491", "stroke": "#8c8c8c", "strokeWidth": 1.5, "x2Offset": -3.5},
       "encoding": {"x2": {"field": "age"}, "xOffset": {"field": "d", "type": "quantitative", "scale": {"domain": [0, 1], "range": [92.75, -3.5]}},
         "y": {"field": "v", "type": "quantitative", "stack": null, "title": null, "scale": {"domain": [-47, 5583], "nice": false, "zero": false}, "axis": {"values": [0, 1000, 2000, 3000, 4000, 5000], "format": "d", "minExtent": 155, "maxExtent": 155}},
         "detail": {"field": "age"}}},
      {"data": {"name": "cent_violin"}, "transform": [{"filter": "datum.g === 'G2'"}],
       "mark": {"type": "area", "orient": "horizontal", "interpolate": "monotone", "fill": "#a4bdd7", "stroke": "#8c8c8c", "strokeWidth": 1.5, "x2Offset": 3.5},
       "encoding": {"x2": {"field": "age"}, "xOffset": {"field": "d", "type": "quantitative", "scale": {"domain": [0, 1], "range": [99.75, 196]}},
         "y": {"field": "v", "type": "quantitative", "stack": null, "title": null, "scale": {"domain": [-47, 5583], "nice": false, "zero": false}},
         "detail": {"field": "age"}}},
      {"data": {"name": "cent_box"}, "transform": [{"filter": "datum.g === 'G1'"}],
       "mark": {"type": "rule", "color": "#3d3d3d", "strokeWidth": 4, "xOffset": -12.5},
       "encoding": {"y": {"field": "lo", "type": "quantitative", "title": null, "scale": {"domain": [-47, 5583], "nice": false, "zero": false}}, "y2": {"field": "hi"}}},
      {"data": {"name": "cent_box"}, "transform": [{"filter": "datum.g === 'G2'"}],
       "mark": {"type": "rule", "color": "#3d3d3d", "strokeWidth": 4, "xOffset": 12.5},
       "encoding": {"y": {"field": "lo", "type": "quantitative", "title": null, "scale": {"domain": [-47, 5583], "nice": false, "zero": false}}, "y2": {"field": "hi"}}},
      {"data": {"name": "cent_box"}, "transform": [{"filter": "datum.g === 'G1'"}],
       "mark": {"type": "rule", "color": "#3d3d3d", "strokeWidth": 15, "xOffset": -12.5},
       "encoding": {"y": {"field": "q1", "type": "quantitative", "title": null, "scale": {"domain": [-47, 5583], "nice": false, "zero": false}}, "y2": {"field": "q3"}}},
      {"data": {"name": "cent_box"}, "transform": [{"filter": "datum.g === 'G2'"}],
       "mark": {"type": "rule", "color": "#3d3d3d", "strokeWidth": 15, "xOffset": 12.5},
       "encoding": {"y": {"field": "q1", "type": "quantitative", "title": null, "scale": {"domain": [-47, 5583], "nice": false, "zero": false}}, "y2": {"field": "q3"}}},
      {"data": {"name": "cent_box"}, "transform": [{"filter": "datum.g === 'G1'"}],
       "mark": {"type": "rule", "color": "white", "strokeWidth": 3, "xOffset": -19, "x2Offset": -6},
       "encoding": {"x2": {"field": "age"}, "y": {"field": "med", "type": "quantitative", "title": null, "scale": {"domain": [-47, 5583], "nice": false, "zero": false}}}},
      {"data": {"name": "cent_box"}, "transform": [{"filter": "datum.g === 'G2'"}],
       "mark": {"type": "rule", "color": "white", "strokeWidth": 3, "xOffset": 6, "x2Offset": 19},
       "encoding": {"x2": {"field": "age"}, "y": {"field": "med", "type": "quantitative", "title": null, "scale": {"domain": [-47, 5583], "nice": false, "zero": false}}}},
      {"data": {"name": "cent_mean"},
       "mark": {"type": "line", "strokeWidth": 3},
       "encoding": {"y": {"field": "mean", "type": "quantitative", "title": null, "scale": {"domain": [-47, 5583], "nice": false, "zero": false}},
         "color": {"field": "g", "type": "nominal", "scale": {"domain": ["G1","G2"], "range": ["#fd8a0e", "#3b7fc4"]}, "legend": null}}},
      {"data": {"name": "cent_mean"},
       "mark": {"type": "circle", "size": 700, "opacity": 1},
       "encoding": {"y": {"field": "mean", "type": "quantitative", "title": null, "scale": {"domain": [-47, 5583], "nice": false, "zero": false}},
         "color": {"field": "g", "type": "nominal", "scale": {"domain": ["G1","G2"], "range": ["#fd8a0e", "#3b7fc4"]}, "legend": null}}},
      {"data": {"name": "cent_sig"},
       "mark": {"type": "rule", "color": "#1a1a1a", "strokeWidth": 3, "strokeCap": "square", "xOffset": -40, "x2Offset": 40},
       "encoding": {"x2": {"field": "age"}, "y": {"field": "level", "type": "quantitative", "title": null, "scale": {"domain": [-47, 5583], "nice": false, "zero": false}}}},
      {"data": {"name": "cent_sig"},
       "mark": {"type": "rule", "color": "#1a1a1a", "strokeWidth": 3, "strokeCap": "square", "xOffset": -40, "y2Offset": 15},
       "encoding": {"y": {"field": "level", "type": "quantitative", "title": null, "scale": {"domain": [-47, 5583], "nice": false, "zero": false}}, "y2": {"field": "level"}}},
      {"data": {"name": "cent_sig"},
       "mark": {"type": "rule", "color": "#1a1a1a", "strokeWidth": 3, "strokeCap": "square", "xOffset": 40, "y2Offset": 15},
       "encoding": {"y": {"field": "level", "type": "quantitative", "title": null, "scale": {"domain": [-47, 5583], "nice": false, "zero": false}}, "y2": {"field": "level"}}},
      {"data": {"name": "cent_sig"},
       "mark": {"type": "text", "font": "Liberation Sans", "fontSize": 66, "color": "#1a1a1a", "baseline": "alphabetic", "dy": -19},
       "encoding": {"text": {"field": "label"}, "y": {"field": "level", "type": "quantitative", "title": null, "scale": {"domain": [-47, 5583], "nice": false, "zero": false}}}}
     ]}
  ]}
]
}
